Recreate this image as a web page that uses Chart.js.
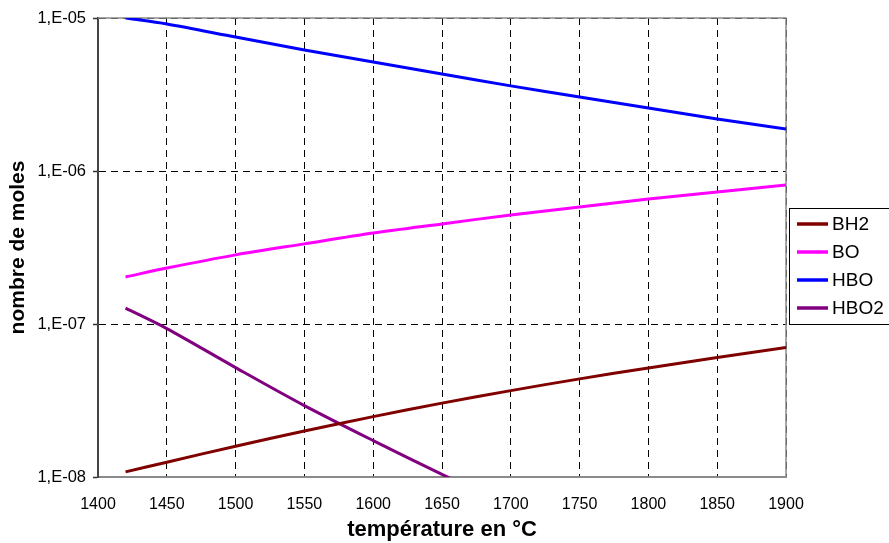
<!DOCTYPE html>
<html>
<head>
<meta charset="utf-8">
<script src="https://cdn.jsdelivr.net/npm/chart.js@4/dist/chart.umd.min.js"></script>
<style>
  html, body { margin: 0; padding: 0; background: #fff; }
  #wrap { position: relative; width: 889px; height: 543px; }
</style>
</head>
<body>
<div id="wrap"><canvas id="chart" width="889" height="543"></canvas></div>
<script>
const temps = [1420, 1450, 1500, 1550, 1600, 1650, 1700, 1750, 1800, 1850, 1900];
const bh2 = [1.08e-8, 1.25e-8, 1.59e-8, 2.0e-8, 2.48e-8, 3.04e-8, 3.67e-8, 4.38e-8, 5.16e-8, 6.04e-8, 7.01e-8];
const bo = [2.03e-7, 2.32e-7, 2.83e-7, 3.34e-7, 3.93e-7, 4.51e-7, 5.16e-7, 5.82e-7, 6.56e-7, 7.29e-7, 8.1e-7];
const hbo = [1.0e-5, 9.14e-6, 7.51e-6, 6.18e-6, 5.16e-6, 4.30e-6, 3.60e-6, 3.05e-6, 2.58e-6, 2.19e-6, 1.88e-6];
const hbo2 = [1.27e-7, 9.33e-8, 5.19e-8, 2.93e-8, 1.73e-8, 1.04e-8, 6.38e-9, null, null, null, null];

const seriesNames = ["BH2", "BO", "HBO", "HBO2"];
const seriesColors = ["#800000", "#ff00ff", "#0000ff", "#800080"];

const yTickValues = [1e-8, 1e-7, 1e-6, 1e-5];
const yTickLabels = ["1,E-08", "1,E-07", "1,E-06", "1,E-05"];

const FONT = "'Liberation Sans', Arial, sans-serif";

function toPoints(values) {
  const pts = [];
  values.forEach((v, i) => {
    if (v !== null) pts.push({ x: temps[i], y: v });
  });
  return pts;
}

const allSeries = [bh2, bo, hbo, hbo2];

// plot frame (right + top) in gray
const framePlugin = {
  id: "frame",
  beforeDatasetsDraw(chart) {
    const { ctx, chartArea: a } = chart;
    ctx.save();
    ctx.strokeStyle = "#8a8a8a";
    ctx.lineWidth = 1.5;
    ctx.beginPath();
    ctx.moveTo(a.left, a.top);
    ctx.lineTo(a.right, a.top);
    ctx.lineTo(a.right, a.bottom);
    ctx.stroke();
    ctx.restore();
  }
};

// boxed legend on the right (box runs off the canvas edge like the original)
const boxLegend = {
  id: "boxLegend",
  afterDraw(chart) {
    const ctx = chart.ctx;
    const left = 789, top = 208, width = 120, rowH = 28;
    const height = 116;
    ctx.save();
    ctx.fillStyle = "#fff";
    ctx.fillRect(left, top, width, height);
    ctx.strokeStyle = "#000";
    ctx.lineWidth = 1;
    ctx.strokeRect(left + 0.5, top + 0.5, width, height);
    ctx.font = "19px " + FONT;
    ctx.textBaseline = "middle";
    chart.data.datasets.forEach((ds, i) => {
      const y = top + 16 + i * rowH;
      ctx.strokeStyle = ds.borderColor;
      ctx.lineWidth = 3.5;
      ctx.beginPath();
      ctx.moveTo(797, y);
      ctx.lineTo(828, y);
      ctx.stroke();
      ctx.fillStyle = "#000";
      ctx.fillText(ds.label, 832, y + 1);
    });
    ctx.restore();
  }
};

new Chart(document.getElementById("chart"), {
  type: "line",
  data: {
    datasets: seriesNames.map((name, i) => ({
      label: name,
      data: toPoints(allSeries[i]),
      borderColor: seriesColors[i],
      backgroundColor: seriesColors[i],
      borderWidth: 3,
      pointRadius: 0,
      tension: 0.3,
      fill: false
    }))
  },
  options: {
    responsive: false,
    animation: false,
    layout: { padding: { top: 18, right: 103, left: 0, bottom: 0 } },
    plugins: {
      legend: { display: false },
      tooltip: { enabled: false }
    },
    scales: {
      x: {
        type: "linear",
        min: 1400,
        max: 1900,
        afterFit(scale) { scale.height = 66; },
        ticks: {
          stepSize: 50,
          padding: 18,
          color: "#000",
          maxRotation: 0,
          font: { family: FONT, size: 16 },
          callback: value => String(value)
        },
        grid: {
          color: "#000",
          lineWidth: 1,
          drawTicks: false,
          tickLength: 0
        },
        border: { display: true, color: "#8a8a8a", width: 2, dash: [7, 5] },
        title: {
          display: true,
          text: "température en °C",
          color: "#000",
          font: { family: FONT, size: 22, weight: "bold", lineHeight: 1.2 },
          padding: { top: 0, bottom: 0 }
        }
      },
      y: {
        type: "logarithmic",
        min: 1e-8,
        max: 1e-5,
        afterFit(scale) { scale.width = 98; },
        afterBuildTicks(scale) {
          scale.ticks = yTickValues.map(v => ({ value: v, major: true }));
        },
        ticks: {
          padding: 7,
          color: "#000",
          font: { family: FONT, size: 16.5 },
          callback(value) {
            const i = yTickValues.findIndex(v => Math.abs(Math.log10(v) - Math.log10(value)) < 1e-6);
            return i >= 0 ? yTickLabels[i] : "";
          }
        },
        grid: {
          color: "#000",
          lineWidth: 1,
          tickLength: 5,
          tickColor: "#333",
          tickBorderDash: [],
          tickWidth: 1.5
        },
        border: { display: true, color: "#444", width: 2, dash: [7, 5] },
        title: {
          display: true,
          text: "nombre de moles",
          color: "#000",
          font: { family: FONT, size: 21, weight: "bold", lineHeight: 1.2 },
          padding: { top: 6, bottom: 0 }
        }
      }
    }
  },
  plugins: [framePlugin, boxLegend]
});
</script>
</body>
</html>
